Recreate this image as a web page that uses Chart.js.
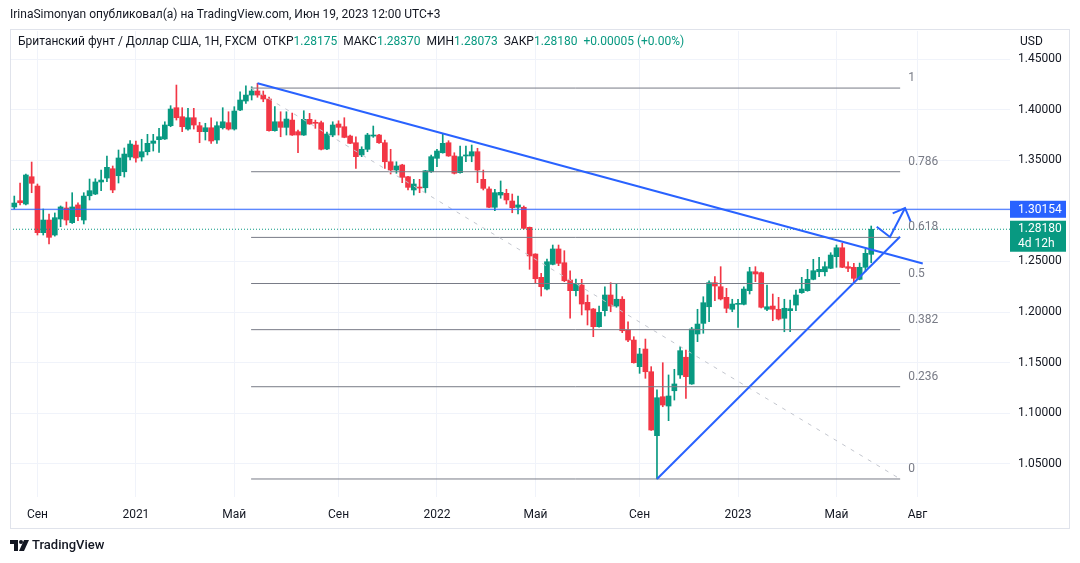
<!DOCTYPE html>
<html>
<head>
<meta charset="utf-8">
<script src="https://cdn.jsdelivr.net/npm/chart.js@4.4.0/dist/chart.umd.min.js"></script>
<style>
  body { margin: 0; background: #fff; font-family: Roboto, "Liberation Sans", sans-serif; color: #131722; }
  #wrap { position: relative; width: 1080px; height: 563px; overflow: hidden; }
  canvas { position: absolute; left: 0; top: 0; }
  .txt { position: absolute; font-size: 12px; line-height: 14px; white-space: pre; }
  .v { color: #089981; }
</style>
</head>
<body>
<div id="wrap">
  <canvas id="chart" width="1080" height="563"></canvas>
  <div class="txt" style="left:10px;top:7px">IrinaSimonyan опубликовал(а) на TradingView.com, Июн 19, 2023 12:00 UTC+3</div>
  <div class="txt" style="left:18px;top:34px">Британский фунт / Доллар США, 1H, FXCM  ОТКР<span class="v">1.28175</span>  МАКС<span class="v">1.28370</span>  МИН<span class="v">1.28073</span>  ЗАКР<span class="v">1.28180</span>  <span class="v">+0.00005 (+0.00%)</span></div>
  <div class="txt" style="left:1020px;top:34px">USD</div>
  <svg style="position:absolute;left:10px;top:540px" width="20" height="11" viewBox="0 0 20 11">
    <polygon points="0,0 8,0 8,11 4,11 4,4 0,4" fill="#131722"/>
    <circle cx="11" cy="2" r="2" fill="#131722"/>
    <polygon points="14,0 19,0 14,11 9,11" fill="#131722"/>
  </svg>
  <div class="txt" style="left:32px;top:538px;font-size:13px;font-weight:500">TradingView</div>
</div>
<script>
// weekly bars, first one = week of 10 Aug 2020
const OPEN = [
  1.3038, 1.3100, 1.3067, 1.3337, 1.3245, 1.2784, 1.2909, 1.2761, 1.2919, 1.3028,
  1.2883, 1.3058, 1.2909, 1.3149, 1.3166, 1.3285, 1.3324, 1.3416, 1.3347, 1.3386,
  1.3532, 1.3650, 1.3532, 1.3584, 1.3667, 1.3703, 1.3710, 1.3841, 1.4019, 1.3930,
  1.3808, 1.3920, 1.3841, 1.3782, 1.3821, 1.3700, 1.3821, 1.3871, 1.3808, 1.3996,
  1.4085, 1.4144, 1.4184, 1.4144, 1.4105, 1.3792, 1.3880, 1.3825, 1.3897, 1.3782,
  1.3749, 1.3904, 1.3871, 1.3871, 1.3611, 1.3749, 1.3858, 1.3831, 1.3739, 1.3673,
  1.3552, 1.3608, 1.3739, 1.3749, 1.3673, 1.3485, 1.3403, 1.3453, 1.3337, 1.3206,
  1.3232, 1.3228, 1.3386, 1.3519, 1.3574, 1.3673, 1.3542, 1.3377, 1.3542, 1.3542,
  1.3584, 1.3311, 1.3216, 1.3035, 1.3156, 1.3173, 1.3097, 1.3035, 1.3035, 1.2837,
  1.2573, 1.2343, 1.2227, 1.2471, 1.2623, 1.2487, 1.2316, 1.2211, 1.2267, 1.2096,
  1.2030, 1.1855, 1.2013, 1.2168, 1.2059, 1.2126, 1.1822, 1.1723, 1.1460, 1.1634,
  1.1410, 1.0778, 1.1163, 1.1071, 1.1222, 1.1378, 1.1553, 1.1289, 1.1783, 1.1888,
  1.2052, 1.2290, 1.2250, 1.2145, 1.2027, 1.2076, 1.2076, 1.2211, 1.2398, 1.2389,
  1.2027, 1.2059, 1.2027, 1.1938, 1.2013, 1.2069, 1.2191, 1.2211, 1.2323, 1.2398,
  1.2398, 1.2432, 1.2547, 1.2635, 1.2448, 1.2442, 1.2323, 1.2442, 1.2570
];
const HIGH = [
  1.3146, 1.3275, 1.3362, 1.3482, 1.3265, 1.3018, 1.2969, 1.2979, 1.3048, 1.3087,
  1.3179, 1.3080, 1.3179, 1.3314, 1.3317, 1.3403, 1.3542, 1.3443, 1.3601, 1.3621,
  1.3693, 1.3690, 1.3707, 1.3756, 1.3756, 1.3815, 1.3880, 1.4039, 1.4243, 1.4019,
  1.4013, 1.4013, 1.3875, 1.3865, 1.3920, 1.3880, 1.4019, 1.3979, 1.4029, 1.4177,
  1.4236, 1.4226, 1.4260, 1.4184, 1.4125, 1.4029, 1.3979, 1.3979, 1.3966, 1.3798,
  1.3989, 1.3963, 1.3897, 1.3887, 1.3779, 1.3880, 1.3890, 1.3920, 1.3749, 1.3732,
  1.3633, 1.3766, 1.3838, 1.3755, 1.3700, 1.3608, 1.3485, 1.3460, 1.3340, 1.3311,
  1.3311, 1.3400, 1.3552, 1.3608, 1.3759, 1.3693, 1.3574, 1.3640, 1.3640, 1.3650,
  1.3618, 1.3403, 1.3238, 1.3213, 1.3295, 1.3213, 1.3166, 1.3146, 1.3048, 1.2840,
  1.2576, 1.2382, 1.2523, 1.2662, 1.2662, 1.2606, 1.2408, 1.2326, 1.2323, 1.2168,
  1.2035, 1.2059, 1.2250, 1.2290, 1.2277, 1.2152, 1.1904, 1.1756, 1.1641, 1.1733,
  1.1460, 1.1230, 1.1499, 1.1378, 1.1434, 1.1657, 1.1625, 1.1849, 1.2027, 1.2151,
  1.2309, 1.2349, 1.2448, 1.2234, 1.2126, 1.2126, 1.2250, 1.2442, 1.2448, 1.2395,
  1.2267, 1.2178, 1.2145, 1.2126, 1.2119, 1.2218, 1.2343, 1.2422, 1.2521, 1.2541,
  1.2497, 1.2586, 1.2662, 1.2679, 1.2497, 1.2481, 1.2484, 1.2620, 1.2850
];
const LOW = [
  1.3018, 1.3058, 1.3058, 1.3179, 1.2761, 1.2761, 1.2672, 1.2750, 1.2843, 1.2860,
  1.2875, 1.2902, 1.2870, 1.3107, 1.3160, 1.3199, 1.3288, 1.3179, 1.3275, 1.3334,
  1.3502, 1.3482, 1.3492, 1.3552, 1.3591, 1.3578, 1.3705, 1.3831, 1.3897, 1.3782,
  1.3798, 1.3808, 1.3673, 1.3700, 1.3667, 1.3667, 1.3808, 1.3798, 1.3798, 1.3990,
  1.4062, 1.4095, 1.4122, 1.4078, 1.3786, 1.3786, 1.3732, 1.3749, 1.3745, 1.3574,
  1.3745, 1.3855, 1.3815, 1.3601, 1.3605, 1.3732, 1.3749, 1.3722, 1.3663, 1.3420,
  1.3535, 1.3584, 1.3726, 1.3667, 1.3420, 1.3364, 1.3371, 1.3278, 1.3206, 1.3156,
  1.3179, 1.3179, 1.3380, 1.3436, 1.3570, 1.3538, 1.3364, 1.3373, 1.3485, 1.3485,
  1.3278, 1.3206, 1.3030, 1.3001, 1.3124, 1.3067, 1.2981, 1.2969, 1.2820, 1.2422,
  1.2284, 1.2158, 1.2218, 1.2466, 1.2458, 1.2300, 1.1938, 1.2158, 1.1971, 1.1872,
  1.1756, 1.1850, 1.1961, 1.2003, 1.2047, 1.1796, 1.1707, 1.1495, 1.1394, 1.1345,
  1.0830, 1.0350, 1.1064, 1.0926, 1.1130, 1.1345, 1.1147, 1.1285, 1.1707, 1.1790,
  1.1904, 1.2112, 1.2119, 1.1993, 1.2003, 1.1849, 1.2070, 1.2178, 1.2300, 1.2040,
  1.2013, 1.1914, 1.1921, 1.1805, 1.1805, 1.2013, 1.2185, 1.2205, 1.2318, 1.2349,
  1.2356, 1.2428, 1.2442, 1.2438, 1.2398, 1.2300, 1.2318, 1.2398, 1.2487
];
const CLOSE = [
  1.3077, 1.3080, 1.3354, 1.3272, 1.2784, 1.2909, 1.2738, 1.2932, 1.3038, 1.2909,
  1.3038, 1.2942, 1.3146, 1.3199, 1.3285, 1.3304, 1.3430, 1.3206, 1.3522, 1.3561,
  1.3660, 1.3522, 1.3584, 1.3667, 1.3690, 1.3732, 1.3848, 1.4006, 1.3920, 1.3831,
  1.3920, 1.3848, 1.3782, 1.3821, 1.3690, 1.3841, 1.3880, 1.3808, 1.3986, 1.4095,
  1.4144, 1.4184, 1.4144, 1.4105, 1.3792, 1.3880, 1.3825, 1.3907, 1.3749, 1.3749,
  1.3904, 1.3858, 1.3865, 1.3608, 1.3759, 1.3848, 1.3825, 1.3726, 1.3667, 1.3535,
  1.3608, 1.3749, 1.3749, 1.3673, 1.3485, 1.3403, 1.3443, 1.3331, 1.3232, 1.3265,
  1.3225, 1.3396, 1.3535, 1.3591, 1.3667, 1.3542, 1.3371, 1.3535, 1.3552, 1.3584,
  1.3403, 1.3222, 1.3035, 1.3179, 1.3183, 1.3107, 1.3031, 1.3058, 1.2827, 1.2554,
  1.2329, 1.2250, 1.2497, 1.2623, 1.2481, 1.2309, 1.2211, 1.2277, 1.2079, 1.2020,
  1.1855, 1.1997, 1.2168, 1.2059, 1.2126, 1.1815, 1.1723, 1.1499, 1.1585, 1.1410,
  1.0834, 1.1153, 1.1081, 1.1170, 1.1289, 1.1618, 1.1361, 1.1832, 1.1881, 1.2092,
  1.2290, 1.2257, 1.2129, 1.2037, 1.2079, 1.2086, 1.2227, 1.2398, 1.2376, 1.2047,
  1.2052, 1.2027, 1.1931, 1.2037, 1.2033, 1.2168, 1.2227, 1.2323, 1.2408, 1.2422,
  1.2448, 1.2563, 1.2635, 1.2442, 1.2432, 1.2333, 1.2442, 1.2580, 1.2818
];

// time axis: bar index of first weekly bar in each labelled month
const TIME_TICKS = [4, 21, 38, 56, 73, 90, 108, 125, 142, 156];
const TIME_LABELS = ['Сен', '2021', 'Май', 'Сен', '2022', 'Май', 'Сен', '2023', 'Май', 'Авг'];
const PRICE_TICKS = [1.05, 1.10, 1.15, 1.20, 1.25, 1.30, 1.35, 1.40, 1.45];

// drawings (bar index, price)
const FIB_LEVELS = [1, 0.786, 0.618, 0.5, 0.382, 0.236, 0];
const FIB_HIGH = 1.4213, FIB_LOW = 1.0350;
const FIB_FROM = 40.9, FIB_TO = 153;
const TREND_DOWN = [[42, 1.4260], [156.9, 1.2479]];
const TREND_UP = [[111, 1.0350], [152.97, 1.2744]];
const ARROW = [[148.95, 1.2843], [151.24, 1.2741], [153.84, 1.3028]];
const ARROW_HEAD = [[151.71, 1.2975], [153.84, 1.3028], [154.82, 1.2892]];
const LEVEL_PRICE = 1.30154;
const LAST_PRICE = 1.28180;

const X_MIN = -0.74, X_MAX = 171.97;
const Y_MIN = 1.0172, Y_MAX = 1.4777;

const UP = '#089981', DOWN = '#f23645', BLUE = '#2962ff';
const FONT = 'Roboto, "Liberation Sans", sans-serif';

const colors = OPEN.map((o, i) => CLOSE[i] >= o ? UP : DOWN);
const pts = arr => arr.map(([x, y]) => ({ x, y }));
const fibPrice = l => FIB_LOW + (FIB_HIGH - FIB_LOW) * l;

const line = (data, color, width, dash, order) => ({
  type: 'line', data, borderColor: color, borderWidth: width, borderDash: dash || [],
  pointRadius: 0, fill: false, tension: 0, order: order
});

const datasets = [
  {
    data: OPEN.map((o, i) => ({ x: i, y: [o, CLOSE[i]] })),
    backgroundColor: colors, barThickness: 5, minBarLength: 1, grouped: false, order: 5
  },
  {
    data: LOW.map((l, i) => ({ x: i, y: [l, HIGH[i]] })),
    backgroundColor: colors, barThickness: 1, grouped: false, order: 6
  },
  line([{ x: X_MIN, y: LAST_PRICE }, { x: X_MAX, y: LAST_PRICE }], UP, 1, [1, 2], 4),
  line([{ x: X_MIN, y: LEVEL_PRICE }, { x: X_MAX, y: LEVEL_PRICE }], BLUE, 1, [], 3),
  line([{ x: FIB_FROM, y: FIB_HIGH }, { x: FIB_TO, y: FIB_LOW }], '#c3c6ce', 1, [4, 6], 3),
  ...FIB_LEVELS.map(l => line([{ x: FIB_FROM, y: fibPrice(l) }, { x: FIB_TO, y: fibPrice(l) }], '#787b86', 1, [], 3)),
  line(pts(TREND_DOWN), BLUE, 2, [], 1),
  line(pts(TREND_UP), BLUE, 2, [], 1),
  line(pts(ARROW), BLUE, 2, [], 1),
  line(pts(ARROW_HEAD), BLUE, 2, [], 1)
];

const overlay = {
  id: 'overlay',
  afterDraw(chart) {
    const { ctx, chartArea, scales: { x, y } } = chart;
    ctx.save();
    ctx.font = '12px ' + FONT;
    ctx.textBaseline = 'middle';
    ctx.textAlign = 'left';
    ctx.fillStyle = '#787b86';
    FIB_LEVELS.forEach(l => {
      ctx.fillText(String(l), x.getPixelForValue(FIB_TO) + 8, y.getPixelForValue(fibPrice(l)) - 10);
    });

    const bx = chartArea.right;
    const ly = y.getPixelForValue(LEVEL_PRICE);
    ctx.fillStyle = BLUE;
    ctx.fillRect(bx, ly - 8.5, 56, 17);
    ctx.fillStyle = '#fff';
    ctx.fillText(LEVEL_PRICE.toFixed(5), bx + 8, ly + 0.5);

    const py = y.getPixelForValue(LAST_PRICE);
    ctx.fillStyle = UP;
    ctx.fillRect(bx, py - 8.5, 56, 31);
    ctx.fillStyle = '#fff';
    ctx.fillText(LAST_PRICE.toFixed(5), bx + 8, py);
    ctx.fillText('4d 12h', bx + 8, py + 14.5);

    ctx.strokeStyle = '#e0e3eb';
    ctx.lineWidth = 1;
    ctx.strokeRect(10.5, 29.5, 1059, 499);
    ctx.restore();
  }
};

new Chart(document.getElementById('chart'), {
  type: 'bar',
  data: { datasets },
  plugins: [overlay],
  options: {
    responsive: false,
    animation: false,
    events: [],
    layout: { padding: { left: 10, top: 31, right: 10, bottom: 34 } },
    plugins: { legend: { display: false }, tooltip: { enabled: false } },
    scales: {
      x: {
        type: 'linear', min: X_MIN, max: X_MAX, offset: false,
        grid: { color: '#f0f3fa', drawTicks: false, offset: false },
        border: { display: false },
        afterBuildTicks: s => { s.ticks = TIME_TICKS.map(v => ({ value: v })); },
        afterFit: s => { s.height = 32; },
        ticks: {
          autoSkip: false, maxRotation: 0, padding: 11, color: '#131722',
          font: { family: FONT, size: 12 },
          callback: v => TIME_LABELS[TIME_TICKS.indexOf(v)]
        }
      },
      y: {
        type: 'linear', position: 'right', min: Y_MIN, max: Y_MAX,
        grid: { color: '#f0f3fa', drawTicks: false },
        border: { display: false },
        afterBuildTicks: s => { s.ticks = PRICE_TICKS.map(v => ({ value: v })); },
        afterFit: s => { s.width = 60; },
        ticks: {
          padding: 8, color: '#131722',
          font: { family: FONT, size: 12 },
          callback: v => v.toFixed(5)
        }
      }
    }
  }
});
</script>
</body>
</html>
